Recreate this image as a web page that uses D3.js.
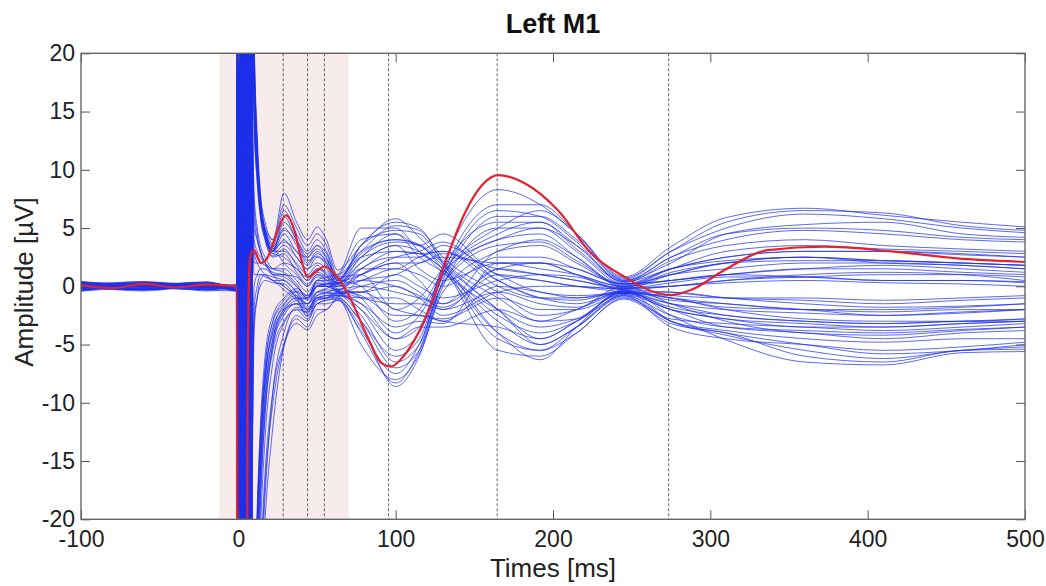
<!DOCTYPE html>
<html>
<head>
<meta charset="utf-8">
<script src="https://cdn.jsdelivr.net/npm/d3@7"></script>
<style>
  body { margin: 0; background: #fff; }
  svg { display: block; font-family: "Liberation Sans", Arial, sans-serif; }
</style>
</head>
<body>
<svg id="chart" width="1046" height="586"></svg>
<script>
// sample times (ms) shared by every blue channel
const times = [-100, -60, -20, -1,
  0, 1, 2, 3, 4, 5, 6, 7, 8, 9,
  10, 12, 14, 17, 22,
  29, 37, 44, 50, 56,
  63, 78, 100, 115, 130,
  165, 192, 215, 245,
  275, 310, 360, 410, 460, 500];

// amplitudes (µV) per channel: baseline | TMS artifact | evoked response
const channels = [
  [0.3,-0.2,0.1,-0.3, 70,-60,45,-85,50,-40,75,-55,-35,32, 18,11,7.5,5,4, 8,5.5,4,5.1,4, 1.4,3.5,5.8,4.2,2, -4,-6.3,-3.5,-0.3, -2.5,-4.6,-6.5,-6.75,-5.7,-5.6],
  [-0.2,0.3,0,-0.4, -65,50,-70,35,-45,80,-30,60,-50,30, 20,12,8,5.5,4, 7,5,3.5,4.5,3.5, 1,3,5.2,4.8,2.5, -0.5,-2.5,-2,0, -1.5,-3,-4,-4.2,-3.8,-3.5],
  [0.1,0.4,-0.1,0.1, 40,-90,60,-35,70,-65,40,-80,45,28, 16,10,7,4.8,3.5, 6.5,4.5,3,4,3, 0.8,1,-2,-1,1.5, 5,6.5,4.5,0.8, 3.4,5.9,6.7,6.1,5.5,5.1],
  [-0.3,0,0.3,-0.1, 85,-40,55,-60,30,-75,55,-45,70,35, 22,12,7,4.5,3, 6,4,2.8,3.5,2.5, 0.5,2.5,4.5,3.5,4.5, 1,0.5,0,-0.2, 1,2,2.5,2,1.8,1.5],
  [0.4,-0.2,0,0, -50,75,-40,55,-85,35,-60,45,-25,30, 17,10,6.5,4.5,3, 5.5,4,2.5,3.5,2.8, 0.6,2.8,4,3.6,2, -2,-4.5,-3,-0.5, -2,-3.5,-4,-4.5,-4,-3.8],
  [0,0.1,-0.3,-0.4, 60,-45,80,-55,40,-70,30,-65,50,33, 19,11,7,4.6,3.2, 5,3.5,2,3,2, 0.3,1.5,3,2.8,3, 0,-1,-1,-0.4, -1,-1.5,-2,-2.5,-2.2,-2],
  [-0.1,-0.3,0.1,0, -80,35,-55,70,-45,60,-85,40,-60,29, 15,9.5,6.5,4.4,3, 4.5,3,2.5,3.2,2.4, 0.4,-1,-4,-2.5,1, 6,6,4,0.6, 3,5.5,6.5,6.3,5.2,4.8],
  [0.2,0,0.4,-0.1, 45,-70,35,-50,90,-45,65,-30,40,31, 21,12,7.5,4.8,3.4, 4.8,3.8,2.2,2.6,1.8, 0.2,2,3.5,1.5,0.5, 2,1.5,1,0, 1.5,3,3.5,3.2,3,2.8],
  [-0.4,0.1,0,-0.2, -40,65,-75,45,-35,55,-50,85,-40,30, 18,10.5,7,4.5,3, 4,2.5,1.5,2.5,2, 0.5,3.5,4.8,4.5,2.2, -1,-3,-2.8,-0.4, -3,-4.2,-5.5,-6.2,-5.5,-5.2],
  [0.3,0.2,-0.1,0.1, 75,-50,30,-65,55,-35,80,-50,35,27, 16,10,6.5,4.2,2.8, 3.5,2.5,1.5,2,1.5, 0,1,2,0.5,-1.5, 1.5,2,1.5,0.2, 0.5,1,1.5,1.5,1.2,1],
  [0,-0.4,0.1,-0.1, -55,40,-65,80,-30,45,-70,55,-45,32, 20,11.5,7.2,4.6,3.2, 3.8,3,1.8,2.8,2.2, 0.7,0,-3,-2,1.2, 4,5,3.5,0.5, 2,4.5,5.3,5.5,4.5,4.2],
  [-0.2,0.1,0.3,0, 35,-80,50,-40,65,-55,35,-70,55,30, 17,10,6.8,4.5,3, 3,2,1,1.8,1, -0.2,-0.5,0,-1,-2.5, -0.5,0,0,-0.3, -0.5,-1,-1.2,-1.5,-1.2,-1],
  [0.1,-0.2,-0.1,-0.3, -90,55,-35,60,-70,40,-45,65,-30,26, 14,9,6,4,2.6, 3.2,1.8,0.5,1.2,0.8, -0.4,1.5,2.5,2.5,3.5, 1,-0.5,-0.8,-0.6, -1,-2,-2.8,-3,-3,-2.8],
  [0.3,0,-0.3,0.1, 55,-35,70,-90,35,-60,50,-40,75,33, 19,11,7,4.4,2.8, 2.5,1.5,0.8,1.5,1.2, 0.2,2.5,3.8,3.5,1.5, -3,-5,-3.5,-0.8, -3.5,-4.5,-5,-5.5,-5.2,-4.8],
  [-0.1,0.3,0.1,-0.3, -45,85,-50,40,-55,75,-40,50,-65,28, 15,9,6,4,2.5, 2.8,1.2,0.2,1,0.6, -0.3,-1.5,-4.5,-3.5,1.5, 5.5,5.5,3.5,0.4, 2.5,4,4.8,4.5,4,3.8],
  [0,0.3,-0.4,0, 65,-55,40,-45,80,-35,60,-75,30,34, 22,13,8,5,3.5, 2,1,0,0.8,0.5, -0.5,-0.5,1,0,-1, 0.5,1,0.8,-0.2, 0,0.5,0.8,1,1,0.8],
  [0.1,-0.3,0,-0.1, -60,45,-80,35,-50,65,-40,30,-20,12, 6,4,3,2,1.5, 2,1.5,0.5,1.5,1, 0,0.5,1.5,1,0, 2.5,2.5,1.5,0.2, 1,2,2.2,2.2,2,1.8],
  [-0.3,0.1,0.2,-0.4, 50,-75,35,-55,85,-40,45,-65,25,10, 4,3,2.5,2,1.5, 1.5,0.5,-0.5,0.5,0.3, -0.4,-2,-5.5,-4,1.8, 8.3,7,4.5,0.7, 3,5,6.2,5.8,5,4.6],
  [0.4,0,-0.1,0.1, -35,60,-45,75,-65,35,-80,50,-30,8, 2,2,2,1.8,1.2, 1,0.8,0,1,0.8, 0.3,3.5,5.5,5,2, -4.5,-5.5,-3.5,-0.7, -3,-4,-5,-5.8,-5.5,-5],
  [0,-0.2,0.3,-0.3, 80,-40,65,-50,40,-85,55,-35,20,-5, 0,1,1.5,1.5,1, 1,0,-1,0,0, -0.3,1,2.5,3,3.8, 0.5,-1,-1.5,-0.5, -1.5,-2.5,-3,-3.2,-3,-3],
  [-0.2,0.1,0,0, -70,50,-40,85,-35,55,-60,45,-15,-10, -2,0,1,1,0.5, 0.5,-0.5,-1.5,-0.5,-0.5, -0.6,0,0.5,-0.5,-2, 1.5,1,0.5,-0.1, 0,0.5,1,1.2,1,0.5],
  [0.3,-0.3,0.1,-0.1, 40,-65,75,-45,55,-50,70,-40,30,15, 8,5,3.5,2.5,1.5, 1.2,0.2,-1,0.2,0, -0.5,-2.5,-6.5,-5,1, 7,7,4.5,0.5, 2.5,4.5,5,4.8,4.2,4],
  [-0.4,0,-0.1,-0.3, -85,40,-60,50,-75,45,-35,60,-25,-14, -4,-1,0.5,1,0.8, 0.5,-0.5,-1.8,-1,-0.8, -0.8,-1,-1,-2,-3, 0,-0.5,-1,-0.6, -1.5,-2,-2.3,-2.5,-2.3,-2],
  [0.1,0.2,0.3,0, 55,-85,40,-60,35,-45,80,-55,25,12, 5,4,3,2,1, 0.8,0,-0.8,0,0, 0.2,2,3.5,3,1.5, -2.5,-4,-3,-0.8, -2.5,-3.5,-3.8,-4,-3.7,-3.5],
  [0,-0.3,0,-0.1, -45,70,-90,40,-55,60,-45,35,-20,9, 3,2,1.5,1,0.5, 0,-1,-2,-1,-1, -0.9,0.5,1,2,2.5, 2,2,1,0, 0.5,1,0.8,0.5,0.5,0.3],
  [-0.1,0.4,0,0.1, 75,-45,55,-70,60,-35,40,-85,20,-12, -3,-1,0,0.5,0.3, 0.2,-1,-2.5,-1.5,-1.2, -1,-3,-7,-5.5,0.5, 6.5,6,3.8,0.3, 2.2,3.5,4,3.5,3.2,3],
  [0.3,-0.1,-0.3,0, -50,80,-35,45,-90,50,-55,40,-18,4, 1,1,1,0.8,0.5, -0.3,-1.2,-2.2,-1.2,-1, -0.7,-0.5,-2,-2.5,-3, -3.5,-4.5,-3,-0.5, -0.5,-1,-1.5,-1.8,-1.7,-1.5],
  [0,0,0.2,-0.3, 65,-35,85,-40,45,-65,35,-50,28,16, 7,4.5,3,2,1, 0,-0.8,-1.5,-0.8,-0.5, -0.3,0,-0.5,-1,-1.5, 3,3.5,2,0.1, 1.5,2.5,3,3,2.7,2.5],
  [-0.3,0.1,0.1,-0.1, -60,45,-50,80,-40,55,-70,35,-45,-50, -35,-22,-15,-8,-4, -2,-1,-1,0.5,0.5, 0.8,4,4.5,2.5,1.2, -4,-5.5,-4,-1, -3,-3.8,-4.5,-4.8,-4.5,-4.5],
  [0.1,-0.2,0.3,0, 45,-70,60,-40,75,-55,40,-60,35,-55, -42,-32,-25,-17,-10, -5,-2.5,-3,-1.5,-1.5, -1.2,-3.5,-8.6,-6,0, 5,5,3,0.2, 1.5,2.2,2.5,2.2,2,1.8],
  [0,0.3,-0.1,-0.3, -75,35,-65,50,-85,40,-50,60,-35,-48, -38,-25,-17,-10,-5, -2.5,-1.5,-2,-1,-1, -0.8,-1.5,-3.5,-3,-3.2, 2,2,1,-0.3, 0,0.3,0.5,0.3,0.2,0],
  [-0.1,0,0.2,0.1, 35,-55,85,-45,50,-80,45,-35,55,-60, -48,-36,-28,-20,-12, -5.2,-2.8,-3.5,-2,-2, -1,-4,-8.3,-5.5,0.3, 4,4.5,2.5,-0.1, 1.2,2,2.5,2.2,2,1.8],
  [0.3,-0.2,0,-0.2, -55,85,-45,35,-60,70,-40,50,-25,-45, -32,-20,-13,-7,-3, -1.5,-0.5,-1.2,0,0, 0,1.5,1.5,2.5,3, 0.5,-1,-1.2,-0.4, -1,-1.8,-2,-2.2,-2,-2],
  [-0.3,0.1,0.3,0, 80,-50,40,-75,55,-45,85,-40,30,-50, -36,-23,-16,-9,-4.5, -2,-1.5,-1.5,0,0.2, 0.5,3,4,3.5,1.8, -2,-5,-3.5,-0.9, -2.8,-3.2,-3.5,-3.8,-3.5,-3.2],
  [0.1,0,-0.3,-0.1, -40,60,-85,55,-35,80,-55,45,-50,-58, -42,-28,-19,-11,-5.5, -3,-2,-2.8,-1.5,-1.2, -1.1,-5,-8,-5.8,-0.5, 3,4,2.5,0, 1,1.5,2,2,1.8,1.5],
  [0,0.2,0.1,-0.4, 50,-40,65,-55,40,-90,60,-45,25,-42, -30,-19,-12,-6,-2.5, -1,-0.2,-0.8,0.3,0.2, 0.2,0.5,0,-0.8,-1.8, 1,0.5,0,-0.5, -0.8,-1,-1,-1.2,-1,-0.8],
  [-0.4,-0.1,0,0, -65,40,-50,70,-80,35,-45,75,-40,-60, -44,-31,-24,-16,-9, -5,-3.2,-3.75,-2.5,-2, -1.2,-3.8,-7.5,-5,0.2, 3.5,3.8,2.2,0.2, 0.5,1,1.5,1.8,1.5,1.2],
  [0.2,0.1,-0.2,0.1, 70,-85,45,-40,60,-50,35,-65,40,-46, -34,-21,-14,-8,-3.5, -1.8,-1,-1.5,-0.5,-0.3, -0.4,-0.8,-2.5,-2.5,-2.8, -1,-2,-2,-0.7, -2,-2.8,-3.5,-3.5,-3.2,-3],
  [-0.1,-0.3,0.2,-0.3, -85,55,-40,65,-50,45,-75,40,-30,-52, -38,-26,-18,-11,-5, -2.2,-1.2,-1,0.5,0.8, 1,5,5,3,1.5, -5.5,-6,-4,-1.1, -3.2,-4,-6,-6.5,-5.5,-5.4],
  [0.3,0,0,-0.1, 40,-65,55,-85,35,-40,70,-55,45,-55, -44,-33,-26,-18,-9, -4,-1.8,-2.3,-1,-0.8, -0.6,-2,-4.5,-3.5,-3.5, -2,-3,-2,-0.4, -1.2,-1.5,-2,-2,-1.8,-1.5],
  [-0.1,0.3,-0.2,0, -50,75,-60,40,-45,85,-35,55,-45,-47, -33,-21,-14,-8,-3.8, -1.6,-0.8,-2,-0.8,-0.6, -0.8,-3,-6,-4.5,0.8, 4.5,5.5,3.2,0.4, 1.5,2.5,3,3,2.8,2.5],
  [0,-0.1,0.1,-0.3, 60,-45,35,-60,80,-35,55,-85,30,-50, -37,-24,-16,-9.5,-4.5, -2.2,-1.5,-2.6,-1.2,-1, -0.5,-1,-1.5,-1.5,-2, -0.5,-1.5,-1.8,-0.5, -1.8,-2.5,-3,-3.2,-3,-2.8],
  [0.4,0.1,0,0.1, -45,90,-55,45,-65,40,-50,60,-40,-44, -31,-20,-13,-7,-3, -1.2,-0.4,-1,0,0.2, 0.3,1,2,2,2.8, 1.5,1,0.5,-0.2, 0.3,0.8,0.8,0.5,0.5,0.4],
  [-0.2,0,-0.2,-0.1, 55,-60,75,-35,45,-70,40,-50,65,-58, -43,-29,-21,-13,-6.5, -3.2,-2,-2.2,-0.5,-0.2, 0.4,2.5,3,2.8,1.2, -2,-3.5,-2.8,-0.6, -2,-2.8,-3.2,-3.5,-3.2,-3]
];

// highlighted (red) channel
const refTimes = [-100,-80,-60,-40,-20,-1, 0,5,5.8,7,8,10,12.5,14.5,18.7,25,
  30.3,35.6,40,44,49.4,54.7,61,69.5,82,91, 97,105,112,122.5,133,144,155,165,182,203,
  224.5,245.5,266.6,275,288,309,336.6,372.5,415,457,500];
const refChannel = [0.1,-0.15,0.2,-0.1,0.15,0, -90,-90,-10,1.5,2.8,3.1,2.4,2.0,2.5,4.8,
  6.1,4.8,2.3,0.8,1.25,1.7,1.1,-0.6,-4.3,-6.6, -6.9,-6.0,-4.6,-1.6,2.6,6.3,8.7,9.55,8.85,6.55,
  2.8,0.8,-0.6,-0.75,-0.3,1.4,3.1,3.4,3.0,2.4,2.1];

const markerTimes = [28.5, 44, 54.7, 95.5, 164.5, 273.5];
const shadedWindow = [-12, 70];
const xTicks = [-100, 0, 100, 200, 300, 400, 500];
const yTicks = [-20, -15, -10, -5, 0, 5, 10, 15, 20];

const svg = d3.select("#chart");
const plotLeft = 81, plotRight = 1025, plotTop = 53.3, plotBottom = 519.3;

const x = d3.scaleLinear().domain([-100, 500]).range([plotLeft, plotRight]);
const y = d3.scaleLinear().domain([-20, 20]).range([plotBottom, plotTop]);

svg.append("defs").append("clipPath").attr("id", "plot-clip")
  .append("rect")
  .attr("x", plotLeft).attr("y", plotTop)
  .attr("width", plotRight - plotLeft).attr("height", plotBottom - plotTop);

const plot = svg.append("g").attr("clip-path", "url(#plot-clip)");

// stimulation window
plot.append("rect")
  .attr("x", x(shadedWindow[0]))
  .attr("y", plotTop)
  .attr("width", x(shadedWindow[1]) - x(shadedWindow[0]))
  .attr("height", plotBottom - plotTop)
  .attr("fill", "#f7ebeb");

// latency markers
plot.selectAll(".marker")
  .data(markerTimes)
  .enter()
  .append("line")
  .attr("class", "marker")
  .attr("x1", d => x(d)).attr("x2", d => x(d))
  .attr("y1", plotTop).attr("y2", plotBottom)
  .attr("stroke", "#555")
  .attr("stroke-width", 0.9)
  .attr("stroke-dasharray", "3,2");

const line = d3.line()
  .x((d, i) => x(times[i]))
  .y(d => y(d))
  .curve(d3.curveMonotoneX);

plot.selectAll(".channel")
  .data(channels)
  .enter()
  .append("path")
  .attr("class", "channel")
  .attr("d", line)
  .attr("fill", "none")
  .attr("stroke", "#1f30ea")
  .attr("stroke-opacity", 0.72)
  .attr("stroke-width", 1);

const refLine = d3.line()
  .x((d, i) => x(refTimes[i]))
  .y(d => y(d))
  .curve(d3.curveMonotoneX);

plot.append("path")
  .datum(refChannel)
  .attr("d", refLine)
  .attr("fill", "none")
  .attr("stroke", "#e3222b")
  .attr("stroke-width", 2.2);

// axes box, ticks pointing inward, plain hyphen minus like the original
const tickLen = 9;
const plain = d => String(d);
const axisStyle = g => {
  g.attr("font-family", null);
  g.select(".domain").remove();
  g.selectAll(".tick line").attr("stroke", "#555");
  g.selectAll(".tick text").attr("fill", "#222").style("font-size", "23px");
};

svg.append("g")
  .attr("transform", `translate(0,${plotBottom})`)
  .call(d3.axisBottom(x).tickValues(xTicks).tickFormat(plain).tickSize(-tickLen).tickPadding(11))
  .call(axisStyle);

svg.append("g")
  .attr("transform", `translate(0,${plotTop})`)
  .call(d3.axisTop(x).tickValues(xTicks).tickSize(-tickLen).tickFormat(""))
  .call(axisStyle);

svg.append("g")
  .attr("transform", `translate(${plotLeft},0)`)
  .call(d3.axisLeft(y).tickValues(yTicks).tickFormat(plain).tickSize(-tickLen).tickPadding(6))
  .call(axisStyle);

svg.append("g")
  .attr("transform", `translate(${plotRight},0)`)
  .call(d3.axisRight(y).tickValues(yTicks).tickSize(-tickLen).tickFormat(""))
  .call(axisStyle);

svg.append("rect")
  .attr("x", plotLeft).attr("y", plotTop)
  .attr("width", plotRight - plotLeft).attr("height", plotBottom - plotTop)
  .attr("fill", "none")
  .attr("stroke", "#666")
  .attr("stroke-width", 1.4);

// titles
svg.append("text")
  .attr("x", (plotLeft + plotRight) / 2).attr("y", 33)
  .attr("text-anchor", "middle")
  .style("font-size", "27px").style("font-weight", "bold")
  .attr("fill", "#111")
  .text("Left M1");

svg.append("text")
  .attr("x", (plotLeft + plotRight) / 2).attr("y", 577)
  .attr("text-anchor", "middle")
  .style("font-size", "26px")
  .attr("fill", "#222")
  .text("Times [ms]");

svg.append("text")
  .attr("transform", "translate(33,282) rotate(-90)")
  .attr("text-anchor", "middle")
  .style("font-size", "26px")
  .attr("fill", "#222")
  .text("Amplitude [µV]");
</script>
</body>
</html>
